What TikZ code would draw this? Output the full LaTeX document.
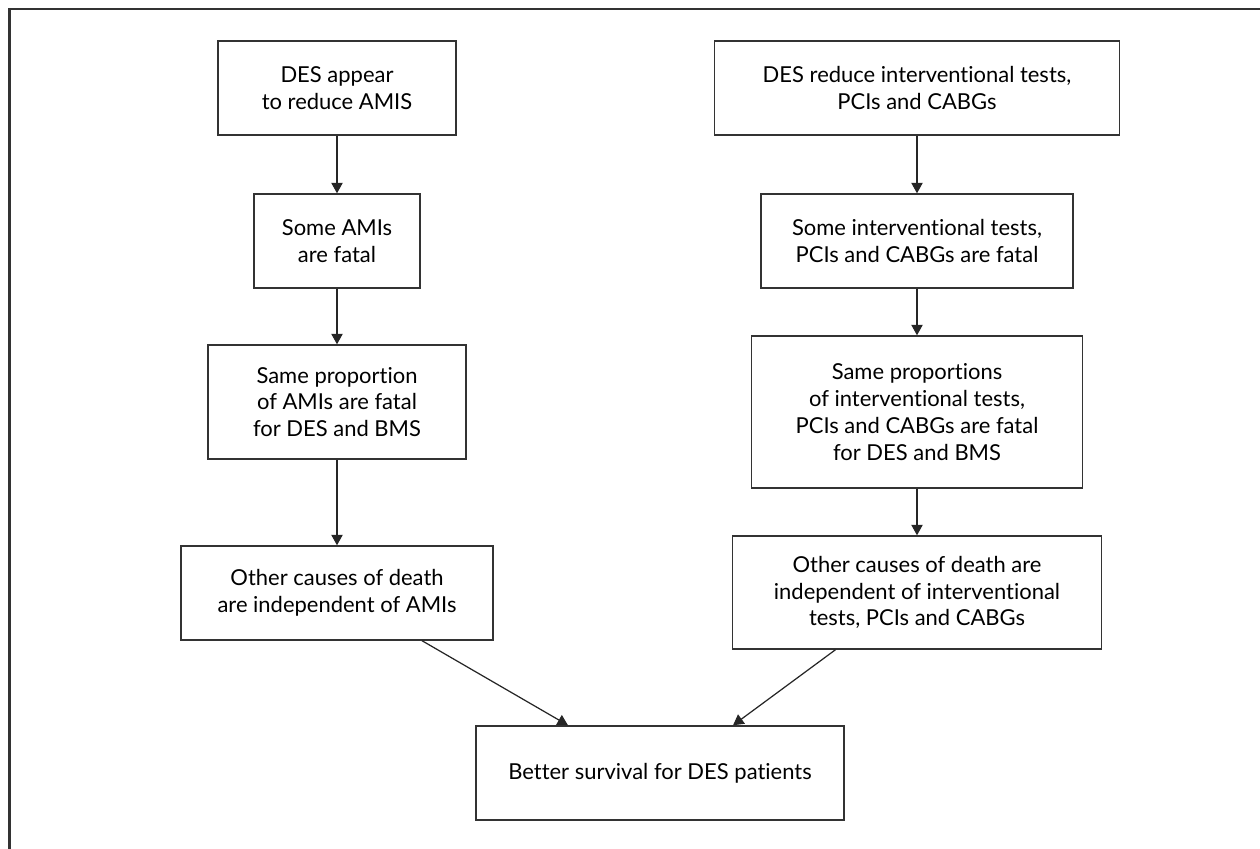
\documentclass[tikz,border=0pt]{standalone}
\usepackage{fontspec}
\setmainfont{Lato}[Ligatures={NoCommon}]
\usetikzlibrary{arrows.meta}

\begin{document}
\begin{tikzpicture}[
  every node/.style = {shape=rectangle, draw=black!80, line width=0.8pt,
    align=center, inner sep=2pt, minimum height=1.88cm,
    font=\fontsize{12.5}{15.3}\selectfont},
  arrow/.style = {draw=black!85, line width=0.7pt,
    -{Triangle[length=6pt,width=6.5pt]}}
  ]
  \useasboundingbox (0,0) rectangle (25.2,-16.98);
  \draw[line width=1.2pt, black!80] (0.19,-16.98) -- (0.19,-0.18) -- (25.2,-0.18);

  % left column
  \node[minimum width=4.76cm] (desamis) at (6.74,-1.76) {DES appear\\to reduce AMIS};
  \node[minimum width=3.32cm] (someamis) at (6.74,-4.82) {Some AMIs\\are fatal};
  \node[minimum width=5.16cm, minimum height=2.28cm] (sameamis) at (6.74,-8.04)
    {Same proportion\\of AMIs are fatal\\for DES and BMS};
  \node[minimum width=6.24cm] (otheramis) at (6.74,-11.86)
    {Other causes of death\\are independent of AMIs};

  % right column
  \node[minimum width=8.1cm] (destests) at (18.34,-1.76)
    {DES reduce interventional tests,\\PCIs and CABGs};
  \node[minimum width=6.24cm] (sometests) at (18.34,-4.82)
    {Some interventional tests,\\PCIs and CABGs are fatal};
  \node[minimum width=6.62cm, minimum height=3.04cm] (sametests) at (18.34,-8.24)
    {Same proportions\\of interventional tests,\\PCIs and CABGs are fatal\\for DES and BMS};
  \node[minimum width=7.38cm, minimum height=2.26cm] (othertests) at (18.34,-11.85)
    {Other causes of death are\\independent of interventional\\tests, PCIs and CABGs};

  \node[minimum width=7.36cm] (survival) at (13.2,-15.46) {Better survival for DES patients};

  \draw[arrow] (desamis) -- (someamis);
  \draw[arrow] (someamis) -- (sameamis);
  \draw[arrow] (sameamis) -- (otheramis);
  \draw[arrow] (destests) -- (sometests);
  \draw[arrow] (sometests) -- (sametests);
  \draw[arrow] (sametests) -- (othertests);
  \draw[arrow] ([xshift=1.7cm]otheramis.south) -- ([xshift=-1.84cm]survival.north);
  \draw[arrow] ([xshift=-1.63cm]othertests.south) -- ([xshift=1.46cm]survival.north);
\end{tikzpicture}
\end{document}
